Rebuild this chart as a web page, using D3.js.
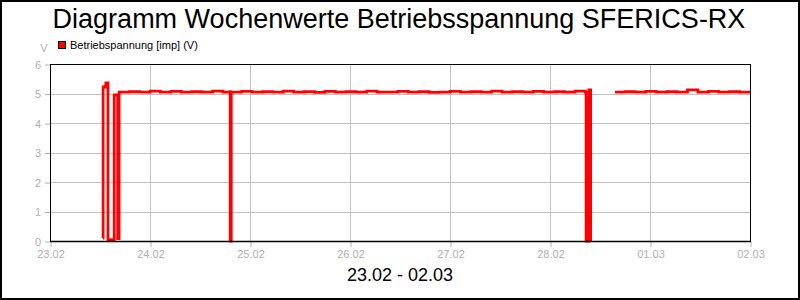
<!DOCTYPE html>
<html>
<head>
<meta charset="utf-8">
<script src="https://cdn.jsdelivr.net/npm/d3@7"></script>
<style>
  body { margin: 0; background: #fff; }
  svg { display: block; font-family: "Liberation Sans", Arial, sans-serif; }
  .grid line { stroke: #c0c0c0; stroke-width: 1; }
  .tick-label { fill: #b0b0b0; font-size: 11px; }
</style>
</head>
<body>
<svg width="800" height="300"></svg>
<script>
// readings, format "dd.mm.yyyy HH:MM", null = no data
var times = [
  "23.02.2023 12:40", "23.02.2023 12:45", "23.02.2023 13:15", "23.02.2023 13:25", "23.02.2023 13:50",
  "23.02.2023 13:55", "23.02.2023 15:20", "23.02.2023 15:25", "23.02.2023 16:10", "23.02.2023 16:15",
  "23.02.2023 16:30", "23.02.2023 16:35", "23.02.2023 19:00", "23.02.2023 21:30", "24.02.2023 00:00",
  "24.02.2023 02:30", "24.02.2023 05:00", "24.02.2023 07:30", "24.02.2023 10:00", "24.02.2023 12:30",
  "24.02.2023 15:00", "24.02.2023 17:30", "24.02.2023 19:10", "24.02.2023 19:15", "24.02.2023 19:25",
  "24.02.2023 19:30", "24.02.2023 22:00", "25.02.2023 00:30", "25.02.2023 03:00", "25.02.2023 05:30",
  "25.02.2023 08:00", "25.02.2023 10:30", "25.02.2023 13:00", "25.02.2023 15:30", "25.02.2023 18:00",
  "25.02.2023 20:30", "25.02.2023 23:00", "26.02.2023 01:30", "26.02.2023 04:00", "26.02.2023 06:30",
  "26.02.2023 09:00", "26.02.2023 11:30", "26.02.2023 14:00", "26.02.2023 16:30", "26.02.2023 19:00",
  "26.02.2023 21:30", "27.02.2023 00:00", "27.02.2023 02:30", "27.02.2023 05:00", "27.02.2023 07:30",
  "27.02.2023 10:00", "27.02.2023 12:30", "27.02.2023 15:00", "27.02.2023 17:30", "27.02.2023 20:00",
  "27.02.2023 22:30", "28.02.2023 01:00", "28.02.2023 03:30", "28.02.2023 06:00", "28.02.2023 08:30",
  "28.02.2023 08:40", "28.02.2023 09:20", "28.02.2023 09:45", "28.02.2023 09:50",
  "28.02.2023 15:35", "28.02.2023 18:00", "28.02.2023 20:30", "28.02.2023 23:00", "01.03.2023 01:30",
  "01.03.2023 04:00", "01.03.2023 06:30", "01.03.2023 09:00", "01.03.2023 11:30", "01.03.2023 14:00",
  "01.03.2023 16:30", "01.03.2023 19:00", "01.03.2023 21:30", "02.03.2023 00:00"
];
var volts = [
  0.10, 5.22, 5.25, 5.36, 5.36,
  0.05, 0.05, 4.95, 4.95, 0.08,
  0.08, 5.05, 5.06, 5.05, 5.08,
  5.05, 5.07, 5.05, 5.06, 5.05,
  5.08, 5.05, 5.06, 0.00, 0.00,
  5.05, 5.07, 5.05, 5.06, 5.05,
  5.08, 5.05, 5.06, 5.04, 5.07,
  5.05, 5.06, 5.05, 5.08, 5.05,
  5.05, 5.07, 5.05, 5.06, 5.04,
  5.05, 5.07, 5.05, 5.06, 5.05,
  5.08, 5.05, 5.06, 5.05, 5.07,
  5.05, 5.06, 5.05, 5.08, 5.05,
  0.00, 5.12, 0.00, null,
  5.05, 5.06, 5.05, 5.07, 5.05,
  5.06, 5.05, 5.12, 5.05, 5.07,
  5.05, 5.06, 5.05, 5.05
];
var dayTicks = ["23.02", "24.02", "25.02", "26.02", "27.02", "28.02", "01.03", "02.03"];
var voltTicks = [0, 1, 2, 3, 4, 5, 6];

var svg = d3.select("svg"),
    plotLeft = 50, plotRight = 750, plotTop = 64, plotBottom = 241;

var parse = d3.timeParse("%d.%m.%Y %H:%M");
var data = times.map(function(t, i) { return { t: parse(t), v: volts[i] }; });

var x = d3.scaleTime()
    .domain([parse("23.02.2023 00:00"), parse("02.03.2023 00:00")])
    .range([plotLeft, plotRight]);
var y = d3.scaleLinear().domain([0, 6]).range([plotBottom, plotTop]);
var dayDates = dayTicks.map(function(d) { return d3.timeParse("%d.%m.%Y")(d + ".2023"); });

// outer frame
svg.append("rect")
    .attr("x", 1).attr("y", 1).attr("width", 798).attr("height", 298)
    .attr("fill", "#fff").attr("stroke", "#000").attr("stroke-width", 2);

svg.append("text")
    .attr("x", 399).attr("y", 28)
    .attr("text-anchor", "middle")
    .style("font-size", "27px")
    .text("Diagramm Wochenwerte Betriebsspannung SFERICS-RX");

// grid
var grid = svg.append("g").attr("class", "grid");
grid.selectAll(".h").data(voltTicks.slice(1, -1)).enter().append("line")
    .attr("x1", plotLeft).attr("x2", plotRight)
    .attr("y1", function(d) { return Math.round(y(d)) + 0.5; })
    .attr("y2", function(d) { return Math.round(y(d)) + 0.5; });
grid.selectAll(".v").data(dayDates.slice(1, -1)).enter().append("line")
    .attr("x1", function(d) { return Math.round(x(d)) + 0.5; })
    .attr("x2", function(d) { return Math.round(x(d)) + 0.5; })
    .attr("y1", plotTop).attr("y2", plotBottom);

// axes
var xAxis = svg.append("g")
    .attr("transform", "translate(0.5," + plotBottom + ")")
    .call(d3.axisBottom(x).tickValues(dayDates).tickSize(6).tickFormat(function(d, i) { return dayTicks[i]; }));
xAxis.select(".domain").remove();
xAxis.selectAll("line").attr("stroke", "#b0b0b0");
xAxis.selectAll("text").attr("class", "tick-label").attr("y", 17).attr("dy", 0)
    .style("font-family", "Liberation Sans, Arial, sans-serif");

var yAxis = svg.append("g")
    .attr("transform", "translate(" + plotLeft + ",0.5)")
    .call(d3.axisLeft(y).tickValues(voltTicks).tickSize(5).tickPadding(4).tickFormat(d3.format("d")));
yAxis.select(".domain").remove();
yAxis.selectAll("line").attr("stroke", "#b0b0b0");
yAxis.selectAll("text").attr("class", "tick-label")
    .style("font-family", "Liberation Sans, Arial, sans-serif");

svg.append("text")
    .attr("class", "tick-label")
    .attr("x", 44).attr("y", 52)
    .attr("text-anchor", "middle")
    .text("V");

// series
var line = d3.line()
    .defined(function(d) { return d.v !== null; })
    .x(function(d) { return x(d.t); })
    .y(function(d) { return y(d.v); })
    .curve(d3.curveStepAfter);

svg.append("path")
    .datum(data)
    .attr("fill", "none")
    .attr("stroke", "#ff0000")
    .attr("stroke-width", 2.8)
    .attr("d", line);

// plot frame
svg.append("rect")
    .attr("x", plotLeft + 0.5).attr("y", plotTop + 0.5)
    .attr("width", plotRight - plotLeft).attr("height", plotBottom - plotTop)
    .attr("fill", "none").attr("stroke", "#000").attr("stroke-width", 1);
svg.append("line")
    .attr("x1", plotLeft).attr("x2", plotRight + 1)
    .attr("y1", plotBottom + 0.5).attr("y2", plotBottom + 0.5)
    .attr("stroke", "#000").attr("stroke-width", 1.5);

// legend
svg.append("rect")
    .attr("x", 58.5).attr("y", 41.5).attr("width", 7).attr("height", 7)
    .attr("fill", "#ff0000").attr("stroke", "#000");
svg.append("text")
    .attr("x", 70).attr("y", 48.5)
    .style("font-size", "11px")
    .text("Betriebspannung [imp] (V)");

svg.append("text")
    .attr("x", 400).attr("y", 281)
    .attr("text-anchor", "middle")
    .style("font-size", "18px")
    .text("23.02 - 02.03");
</script>
</body>
</html>
